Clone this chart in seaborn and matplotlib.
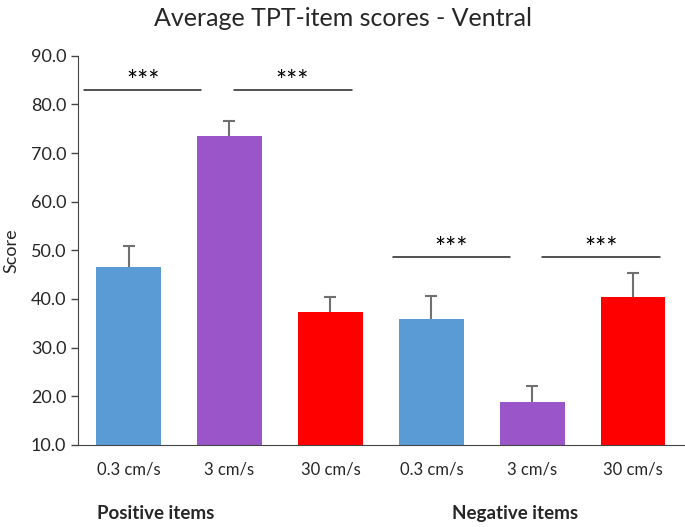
import numpy as np
import pandas as pd
import seaborn as sns
import matplotlib.pyplot as plt

# values
speed_labels = ['0.3 cm/s', '3 cm/s', '30 cm/s', '0.3 cm/s', '3 cm/s', '30 cm/s']
scores = [46.6, 73.5, 37.3, 35.8, 18.9, 40.3]
errors = [4.3, 3.1, 3.0, 4.8, 3.2, 5.0]
bar_colors = ['#5B9BD5', '#9A56C9', '#FF0000', '#5B9BD5', '#9A56C9', '#FF0000']
# significance brackets: (x start, x end, y)
brackets = [(-0.44, 0.72, 83.0), (1.04, 2.21, 83.0),
            (2.62, 3.78, 48.6), (4.10, 5.27, 48.6)]

sns.set_style('white')
plt.rcParams['font.family'] = ['Lato', 'DejaVu Sans']

df = pd.DataFrame({'pos': [str(i) for i in range(len(scores))],
                   'score': scores})

fig = plt.figure(figsize=(6.85, 5.27), dpi=100)
ax = fig.add_axes([0.114, 0.156, 0.884, 0.738])

sns.barplot(data=df, x='pos', y='score', hue='pos', palette=bar_colors,
            legend=False, width=0.64, saturation=1, ax=ax, linewidth=0)

# upper error bars only
x = np.arange(len(scores))
eb = ax.errorbar(x, scores, yerr=[np.zeros(len(errors)), errors], fmt='none',
                 ecolor='#707070', elinewidth=1.5, capsize=4.5, capthick=1.5)
eb[1][0].set_visible(False)  # drop the lower caps

for x0, x1, y in brackets:
    ax.plot([x0, x1], [y, y], color='#222222', lw=1.1, clip_on=False)
    ax.text((x0 + x1) / 2, y + 1.6, '***', ha='center', va='center',
            fontsize=19, color='black')

ax.set_ylim(10, 90)
ax.set_xlim(-0.5, 5.5)
ax.set_yticks(np.arange(10, 91, 10))
ax.set_yticklabels([f'{v:.1f}' for v in np.arange(10, 91, 10)], fontsize=13)
ax.set_xticks(x)
ax.set_xticklabels(speed_labels, fontsize=12)
ax.tick_params(axis='y', direction='out', length=5, width=1, color='#444444', left=True)
ax.tick_params(axis='x', length=0, pad=12)
ax.set_xlabel('')
ax.set_ylabel('Score', fontsize=13, labelpad=8)

sns.despine(ax=ax)
ax.spines['left'].set_color('#444444')
ax.spines['bottom'].set_color('#444444')

fig.text(0.5, 0.965, 'Average TPT-item scores - Ventral', ha='center', va='center', fontsize=18)
fig.text(0.141, 0.025, 'Positive items', ha='left', va='center', fontsize=13.5, fontweight='bold')
fig.text(0.660, 0.025, 'Negative items', ha='left', va='center', fontsize=13.5, fontweight='bold')

fig.savefig('out.png', dpi=100)
